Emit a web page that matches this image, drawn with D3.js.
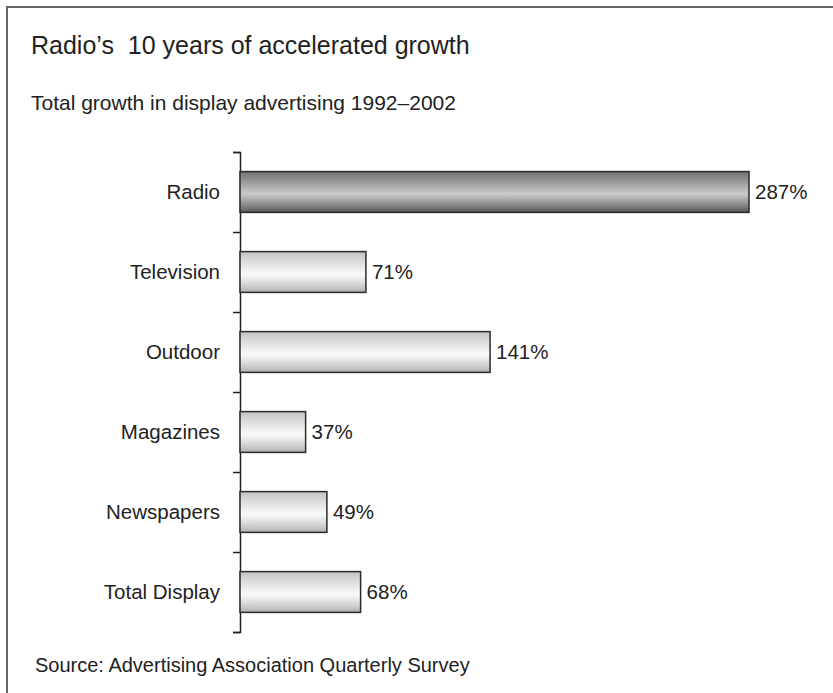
<!DOCTYPE html>
<html>
<head>
<meta charset="utf-8">
<script src="https://cdn.jsdelivr.net/npm/d3@7"></script>
<style>
  html, body { margin: 0; padding: 0; background: #fff; }
  svg { display: block; font-family: "Liberation Sans", Arial, sans-serif; }
</style>
</head>
<body>
<svg id="chart" width="833" height="693"></svg>
<script>
// Growth in display advertising by medium, 1992–2002 (%)
const categories = ["Radio", "Television", "Outdoor", "Magazines", "Newspapers", "Total Display"];
const growth = [287, 71, 141, 37, 49, 68];
const highlighted = ["Radio"];

const titleText = "Radio\u2019s  10 years of accelerated growth";
const subtitleText = "Total growth in display advertising 1992\u20132002";
const sourceText = "Source: Advertising Association Quarterly Survey";

const svg = d3.select("#chart");
const W = 833, H = 693;

// Frame (runs off the right and bottom edges)
svg.append("rect")
  .attr("x", 7).attr("y", 7)
  .attr("width", W + 10).attr("height", H + 10)
  .attr("fill", "#fff")
  .attr("stroke", "#666").attr("stroke-width", 2);

// Gradients for the cylinder-style bars
const defs = svg.append("defs");
function addGradient(id, stops) {
  const g = defs.append("linearGradient").attr("id", id)
    .attr("x1", 0).attr("y1", 0).attr("x2", 0).attr("y2", 1);
  stops.forEach(([o, c]) => g.append("stop").attr("offset", o).attr("stop-color", c));
}
addGradient("barDark", [[0, "#727272"], [0.25, "#9a9a9a"], [0.55, "#cacaca"], [0.8, "#8c8c8c"], [1, "#5a5a5a"]]);
addGradient("barLight", [[0, "#c2c2c2"], [0.3, "#e2e2e2"], [0.55, "#fafafa"], [0.8, "#d6d6d6"], [1, "#aeaeae"]]);

const axisX = 240;
const plotTop = 152, plotBottom = 632;

const x = d3.scaleLinear().domain([0, 287]).range([axisX, 749]);
const y = d3.scaleBand().domain(categories).range([plotTop, plotBottom])
  .paddingInner(0.49).paddingOuter(0.245);

// Axis with ticks at category boundaries
const boundary = d3.scaleLinear().domain([0, categories.length]).range([plotTop, plotBottom]);
const axisG = svg.append("g")
  .attr("transform", `translate(${axisX},0)`)
  .call(d3.axisLeft(boundary).ticks(categories.length).tickFormat("").tickSize(7).tickSizeOuter(7));
axisG.select(".domain").attr("stroke", "#222").attr("stroke-width", 1.5);
axisG.selectAll(".tick line").attr("stroke", "#222").attr("stroke-width", 1.5);

// Bars
svg.append("g").selectAll("rect")
  .data(categories)
  .join("rect")
  .attr("x", x(0))
  .attr("y", d => y(d))
  .attr("width", (d, i) => x(growth[i]) - x(0))
  .attr("height", y.bandwidth())
  .attr("fill", d => highlighted.includes(d) ? "url(#barDark)" : "url(#barLight)")
  .attr("stroke", "#2a2a2a")
  .attr("stroke-width", 1.5);

// Category labels
svg.append("g").selectAll("text")
  .data(categories)
  .join("text")
  .attr("x", 220)
  .attr("y", d => y(d) + y.bandwidth() / 2)
  .attr("dy", "0.35em")
  .attr("text-anchor", "end")
  .attr("font-size", 20.5)
  .attr("fill", "#222")
  .text(d => d);

// Value labels
svg.append("g").selectAll("text")
  .data(categories)
  .join("text")
  .attr("x", (d, i) => x(growth[i]) + 6)
  .attr("y", d => y(d) + y.bandwidth() / 2)
  .attr("dy", "0.35em")
  .attr("font-size", 20.5)
  .attr("fill", "#222")
  .text((d, i) => growth[i] + "%");

// Titles and source
svg.append("text").attr("x", 31).attr("y", 54)
  .attr("font-size", 25).attr("fill", "#222")
  .style("white-space", "pre")
  .text(titleText);
svg.append("text").attr("x", 31).attr("y", 110)
  .attr("font-size", 21).attr("fill", "#222")
  .text(subtitleText);
svg.append("text").attr("x", 35).attr("y", 672)
  .attr("font-size", 20).attr("fill", "#222")
  .text(sourceText);
</script>
</body>
</html>
